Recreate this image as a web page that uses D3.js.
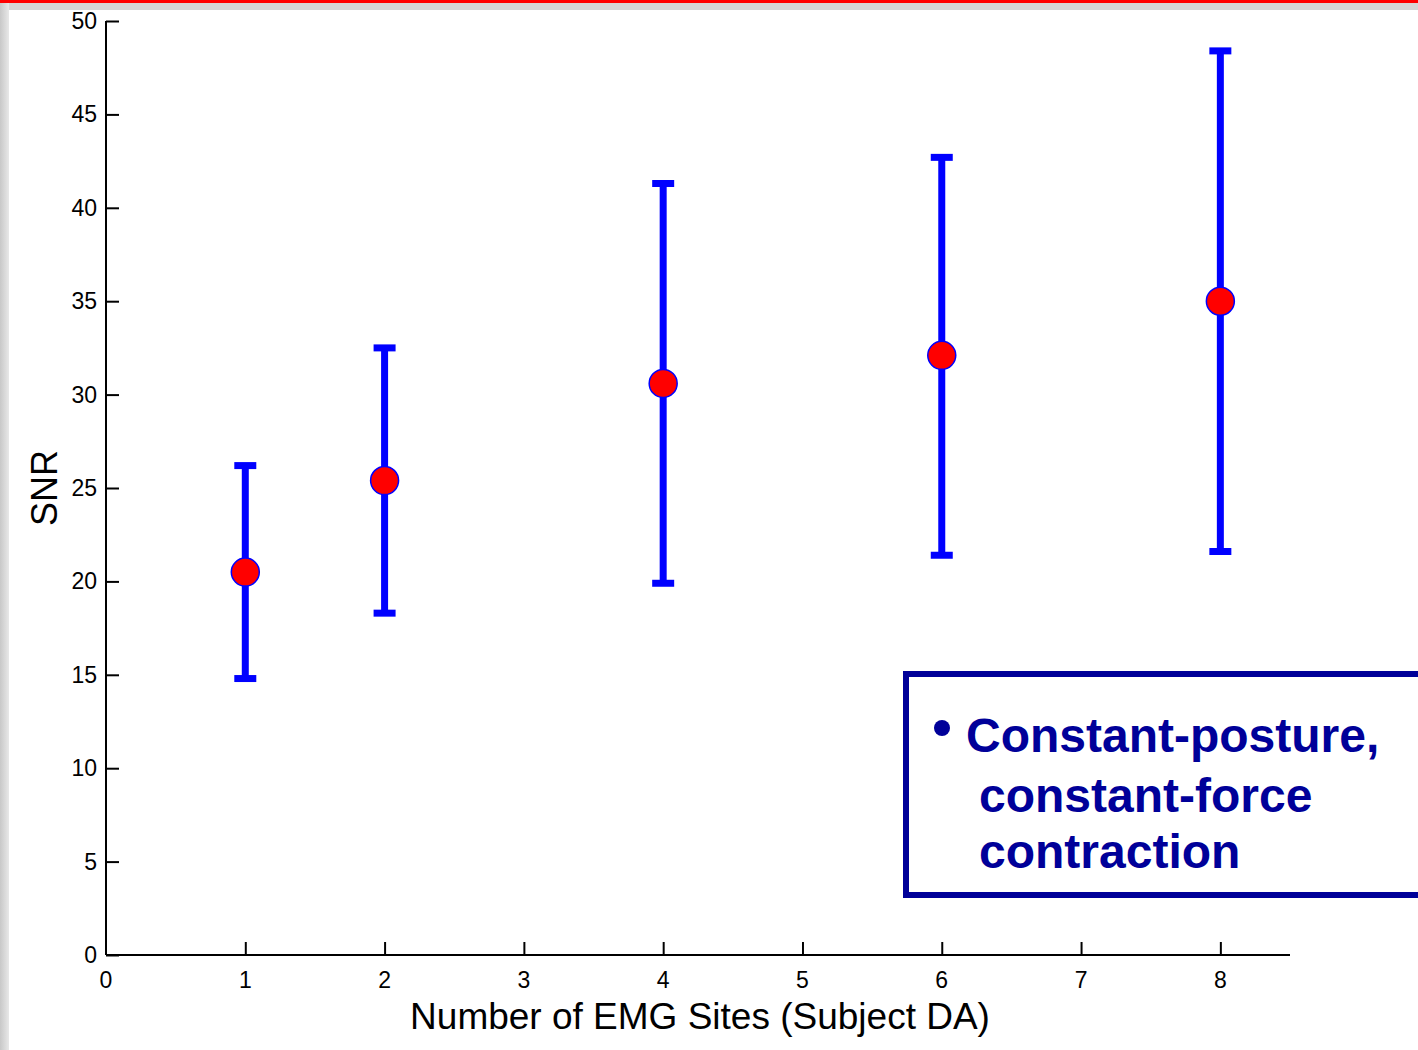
<!DOCTYPE html>
<html>
<head>
<meta charset="utf-8">
<script src="https://cdn.jsdelivr.net/npm/d3@7"></script>
<style>
body { margin: 0; background: #fff; }
svg { display: block; }
text { font-family: "Liberation Sans", Arial, sans-serif; }
</style>
</head>
<body>
<svg id="chart" width="1418" height="1050"></svg>
<script>
// SNR vs number of EMG sites, subject DA
var sites = [1, 2, 4, 6, 8]
var snrMean = [20.5, 25.4, 30.6, 32.1, 35.0]
var snrHigh = [26.2, 32.5, 41.3, 42.7, 48.4]
var snrLow = [14.8, 18.3, 19.9, 21.4, 21.6]
var xTicks = [0, 1, 2, 3, 4, 5, 6, 7, 8]
var yTicks = [0, 5, 10, 15, 20, 25, 30, 35, 40, 45, 50]
var legendLines = ['Constant-posture,', 'constant-force', 'contraction']

var svg = d3.select('#chart')

// slide frame: red strip on top, grey edges
var grad = svg.append('defs').append('linearGradient').attr('id', 'edge')
grad.append('stop').attr('offset', 0).attr('stop-color', '#c8c8c8')
grad.append('stop').attr('offset', 1).attr('stop-color', '#e8e8e8')
svg.append('rect').attr('x', 0).attr('y', 0).attr('width', 1418).attr('height', 10).attr('fill', '#d6d6d6')
svg.append('rect').attr('x', 0).attr('y', 0).attr('width', 9).attr('height', 1050).attr('fill', 'url(#edge)')
svg.append('rect').attr('x', 0).attr('y', 0).attr('width', 1418).attr('height', 3).attr('fill', '#ff0000')

var x = d3.scaleLinear().domain([0, 8.5]).range([106, 1290])
var y = d3.scaleLinear().domain([0, 50]).range([955, 21])

var g = svg.append('g')

// y axis, ticks pointing inward
var yAxis = g.append('g').attr('transform', 'translate(' + x(0) + ',0)')
  .call(d3.axisRight(y).tickValues(yTicks).tickSize(13).tickFormat(''))
yAxis.select('.domain').attr('d', 'M0,' + y(50) + 'V' + y(0))
yAxis.selectAll('line, path').attr('stroke', '#000').attr('stroke-width', 2)
g.append('g').selectAll('text').data(yTicks).enter().append('text')
  .attr('x', x(0) - 9).attr('y', function (d) { return y(d) + 8 })
  .attr('text-anchor', 'end').attr('font-size', 23).attr('fill', '#000')
  .text(function (d) { return d })

// x axis, ticks pointing up
var xAxis = g.append('g').attr('transform', 'translate(0,' + y(0) + ')')
  .call(d3.axisTop(x).tickValues(xTicks.slice(1)).tickSize(13).tickFormat(''))
xAxis.select('.domain').attr('d', 'M' + x(0) + ',0H' + x(8.5))
xAxis.selectAll('line, path').attr('stroke', '#000').attr('stroke-width', 2)
g.append('g').selectAll('text').data(xTicks).enter().append('text')
  .attr('x', function (d) { return x(d) }).attr('y', y(0) + 33)
  .attr('text-anchor', 'middle').attr('font-size', 23).attr('fill', '#000')
  .text(function (d) { return d })

g.append('text').attr('x', 700).attr('y', 1029).attr('text-anchor', 'middle')
  .attr('font-size', 37).attr('fill', '#000').text('Number of EMG Sites (Subject DA)')
g.append('text').attr('transform', 'translate(57,' + 488 + ') rotate(-90)')
  .attr('text-anchor', 'middle').attr('font-size', 36).attr('fill', '#000').text('SNR')

// error bars
var pts = sites.map(function (s, i) { return { s: s, m: snrMean[i], hi: snrHigh[i], lo: snrLow[i] } })
var bars = g.append('g').selectAll('g').data(pts).enter().append('g')
bars.append('line')
  .attr('x1', function (d) { return x(d.s) }).attr('x2', function (d) { return x(d.s) })
  .attr('y1', function (d) { return y(d.hi) }).attr('y2', function (d) { return y(d.lo) })
  .attr('stroke', '#0000ff').attr('stroke-width', 7)
bars.selectAll('.cap').data(function (d) { return [[d.s, d.hi], [d.s, d.lo]] }).enter().append('line')
  .attr('x1', function (d) { return x(d[0]) - 11 }).attr('x2', function (d) { return x(d[0]) + 11 })
  .attr('y1', function (d) { return y(d[1]) }).attr('y2', function (d) { return y(d[1]) })
  .attr('stroke', '#0000ff').attr('stroke-width', 7)
bars.append('circle')
  .attr('cx', function (d) { return x(d.s) }).attr('cy', function (d) { return y(d.m) })
  .attr('r', 14).attr('fill', '#ff0000').attr('stroke', '#0000ff').attr('stroke-width', 1.5)

// legend-ish note box
var note = svg.append('g')
note.append('rect').attr('x', 906).attr('y', 674).attr('width', 560).attr('height', 221)
  .attr('fill', '#fff').attr('stroke', '#000099').attr('stroke-width', 6)
note.append('circle').attr('cx', 942).attr('cy', 728).attr('r', 8).attr('fill', '#000099')
note.selectAll('text.l').data(legendLines).enter().append('text')
  .attr('x', function (d, i) { return i === 0 ? 966 : 979 })
  .attr('y', function (d, i) { return [752, 812, 868][i] })
  .attr('font-size', 48).attr('font-weight', 'bold').attr('fill', '#000099')
  .text(function (d) { return d })
</script>
</body>
</html>
